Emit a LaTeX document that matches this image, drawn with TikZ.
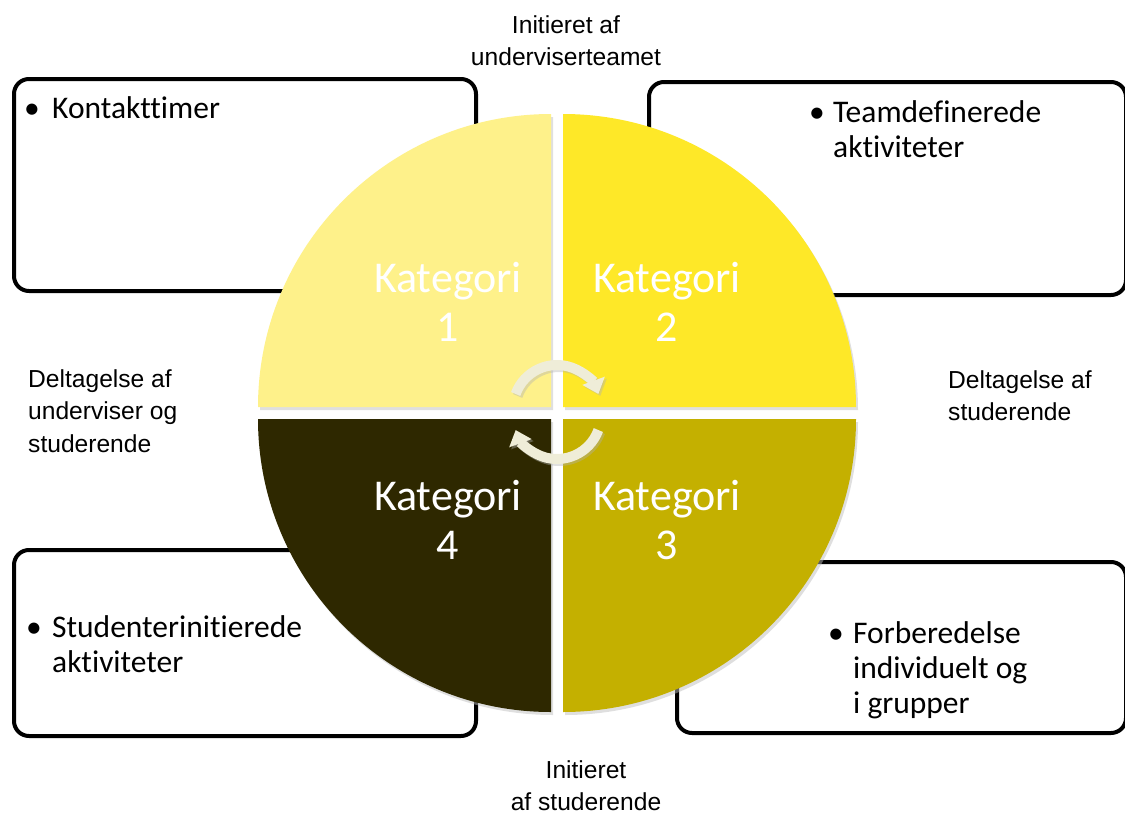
\documentclass[tikz,border=0pt]{standalone}
\usepackage{fontspec}
\setmainfont{Carlito}[Ligatures=NoCommon]
\newfontfamily\arialfont{Liberation Sans}
\usepackage{tikz}
\usetikzlibrary{arrows.meta}
\definecolor{kat1}{HTML}{FEF18A}
\definecolor{kat2}{HTML}{FEE828}
\definecolor{kat3}{HTML}{C4B000}
\definecolor{kat4}{HTML}{2E2800}
\definecolor{pil}{HTML}{EFEDD8}
\tikzset{
  box/.style={draw,line width=4pt,rounded corners=15pt,fill=white,inner sep=0pt},
  bodytxt/.style={anchor=base west,inner sep=0pt,font=\fontsize{31.5}{35}\selectfont},
  kattxt/.style={anchor=base,inner sep=0pt,text=white,font=\fontsize{44}{49}\selectfont},
  lbl/.style={inner sep=0pt,font=\arialfont\fontsize{24.6}{32.5}\selectfont},
  pilen/.style={line width=10pt,pil,-{Triangle[width=23pt,length=14pt]}}
}
\begin{document}
\begin{tikzpicture}[x=1pt,y=1pt]
\clip (0,0) rectangle (1125,-814);
% boxes
\node[box,minimum width=462,minimum height=212] (kontakt) at (245,-185) {};
\node[box,minimum width=477,minimum height=213] (team) at (887.5,-188.5) {};
\node[box,minimum width=462,minimum height=186] (student) at (245,-643) {};
\node[box,minimum width=449,minimum height=171] (forb) at (901.5,-647.5) {};
% circle
\foreach \cx/\cy/\sa/\col in {551/-407/90/kat1,563/-407/0/kat2,563/-419/-90/kat3,551/-419/180/kat4}{
  \fill[black!25,opacity=.5] (\cx+2,\cy-3) -- ++(\sa:293) arc[start angle=\sa,end angle=\sa+90,radius=293] -- cycle;
  \fill[\col] (\cx,\cy) -- ++(\sa:293) arc[start angle=\sa,end angle=\sa+90,radius=293] -- cycle;
}
% arrows
\draw[pilen,black!30,opacity=.4] (559,-411) ++(160:44) arc[start angle=160,end angle=20,radius=44];
\draw[pilen] (557,-409) ++(160:44) arc[start angle=160,end angle=20,radius=44];
\draw[pilen,black!30,opacity=.4] (559,-417) ++(-20:44) arc[start angle=-20,end angle=-160,radius=44];
\draw[pilen] (557,-415) ++(-20:44) arc[start angle=-20,end angle=-160,radius=44];
% category labels
\node[kattxt] (k1) at (448,-292) {\begin{tabular}[t]{@{}c@{}}Kategori\\1\end{tabular}};
\node[kattxt] (k2) at (667,-292) {\begin{tabular}[t]{@{}c@{}}Kategori\\2\end{tabular}};
\node[kattxt] (k3) at (667,-510) {\begin{tabular}[t]{@{}c@{}}Kategori\\3\end{tabular}};
\node[kattxt] (k4) at (448,-510) {\begin{tabular}[t]{@{}c@{}}Kategori\\4\end{tabular}};
% box texts
\node[bodytxt] (kontakttxt) at (24,-118) {\makebox[28pt][l]{\textbullet}Kontakttimer};
\node[bodytxt] (teamtxt) at (809,-122) {\begin{tabular}[t]{@{}p{24pt}@{}l@{}}\textbullet&Teamdefinerede\\&aktiviteter\end{tabular}};
\node[bodytxt] (studenttxt) at (26,-637) {\begin{tabular}[t]{@{}p{26pt}@{}l@{}}\textbullet&Studenterinitierede\\&aktiviteter\end{tabular}};
\node[bodytxt] (forbtxt) at (828,-643) {\begin{tabular}[t]{@{}p{25pt}@{}l@{}}\textbullet&Forberedelse\\&individuelt og\\&i grupper\end{tabular}};
% outer labels
\node[lbl,anchor=base] (top) at (566,-33) {\begin{tabular}[t]{@{}c@{}}Initieret af\\underviserteamet\end{tabular}};
\node[lbl,anchor=base west] (venstre) at (28,-387) {\begin{tabular}[t]{@{}l@{}}Deltagelse af\\underviser og\\studerende\end{tabular}};
\node[lbl,anchor=base west] (hoejre) at (948,-388) {\begin{tabular}[t]{@{}l@{}}Deltagelse af\\studerende\end{tabular}};
\node[lbl,anchor=base] (bund) at (586,-778) {\begin{tabular}[t]{@{}c@{}}Initieret\\af studerende\end{tabular}};
\end{tikzpicture}
\end{document}
